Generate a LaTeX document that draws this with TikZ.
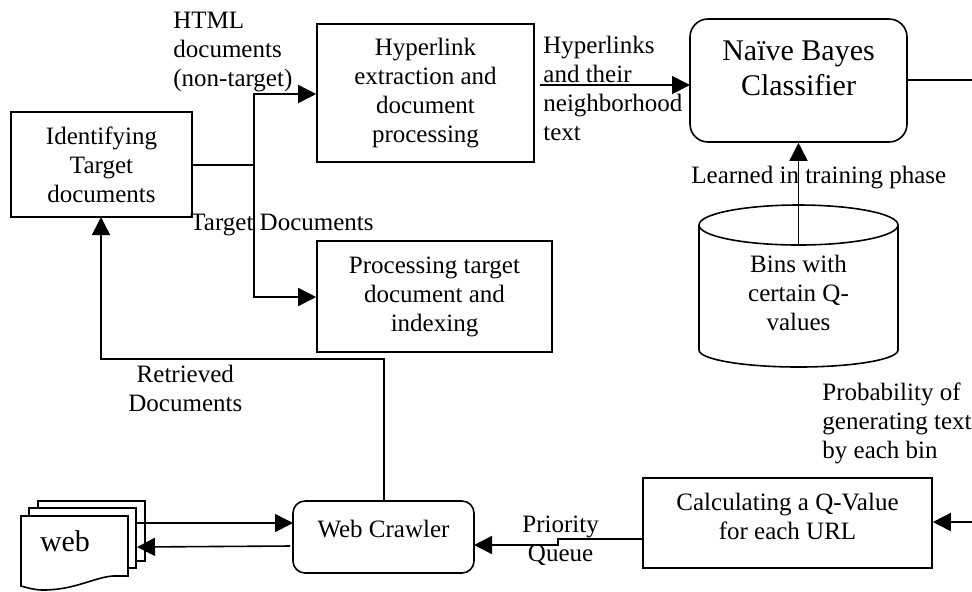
\documentclass[tikz,border=0pt]{standalone}
\usepackage{fontspec}
\setmainfont{Liberation Serif}
\usetikzlibrary{arrows.meta}

\tikzset{
  flow/.style = {line width = 0.8pt, -{Triangle[length = 9pt, width = 9pt]}},
  wire/.style = {line width = 0.8pt},
  box/.style = {draw, line width = 0.8pt, inner sep = 0pt, align = center,
    font = \fontsize{12.5}{14.5}\selectfont},
  roundbox/.style = {box, rounded corners = 9pt},
  tag/.style = {anchor = north west, inner sep = 0pt, align = left,
    font = \fontsize{12.5}{14.5}\selectfont}
}

\begin{document}
\begin{tikzpicture}[x = 0.5pt, y = -0.5pt]
  \useasboundingbox (0, 0) rectangle (972, 591);

  \draw (101.5, 164.5) node[box, minimum width = 90.5pt, minimum height = 52.5pt] (identify)
    {Identifying\\Target\\documents};
  \draw (425.5, 93) node[box, minimum width = 108.5pt, minimum height = 69pt] (hyperlink)
    {Hyperlink\\extraction and\\document\\processing};
  \draw (434.5, 296.5) node[box, minimum width = 117.5pt, minimum height = 55.5pt] (process)
    {Processing target\\document and\\indexing};
  \draw (798.5, 80.5) node[roundbox, minimum width = 108.5pt, minimum height = 61.5pt,
    font = \fontsize{15}{17.5}\selectfont] (bayes) {Naïve Bayes\\Classifier\\[-5.5pt]};
  \draw (787.5, 523) node[box, minimum width = 144.5pt, minimum height = 45pt] (qvalue)
    {Calculating a Q-Value\\for each URL\\[-8pt]};
  \draw (383.5, 537) node[roundbox, rounded corners = 6pt, minimum width = 90.5pt,
    minimum height = 36pt] (crawler)
    {Web Crawler\\[-6.5pt]};

  % cylinder
  \draw[wire]
    (699, 225) -- (699, 350)
    arc[start angle = 180, end angle = 0, x radius = 99.5, y radius = 17]
    -- (898, 225);
  \draw[wire] (798.5, 225) ellipse[x radius = 99.5, y radius = 20];
  \draw (798.5, 293) node[inner sep = 0pt, align = center,
    font = \fontsize{12.5}{14.5}\selectfont] (bins)
    {Bins with\\certain Q-\\values};

  % stack of pages
  \draw[wire, fill = white] (38, 501) rectangle (145, 561);
  \draw[wire, fill = white] (29, 508) rectangle (136, 568);
  \draw[wire, fill = white]
    (21, 516) -- (128, 516) -- (128, 576) -- (113, 576)
    .. controls (95, 577) and (75, 590) .. (43, 590)
    .. controls (35, 590) and (28, 588) .. (21, 586) -- cycle;
  \draw (65, 541) node[inner sep = 0pt, font = \fontsize{15}{18}\selectfont] (web) {web};
  \coordinate (webout) at (135, 523);
  \coordinate (webin) at (137, 547);

  \coordinate (split) at (254, 165);
  \coordinate (splitup) at (254, 94);
  \coordinate (splitdown) at (254, 297);
  \coordinate (binstop) at (798.5, 245);
  \coordinate (linkout) at (540, 85);
  \coordinate (linkin) at (690, 85);
  \coordinate (bayesout) at (972, 80);
  \coordinate (qin) at (972, 522);
  \coordinate (crawlout) at (290, 546);
  \coordinate (crawlin) at (293, 523);
  \coordinate (crawlq) at (474, 545);
  \coordinate (qout) at (643, 539);
  \coordinate (stepa) at (558, 545);
  \coordinate (stepb) at (558, 539);
  \coordinate (crawlup) at (384, 501);
  \coordinate (bendr) at (384, 359);
  \coordinate (bendl) at (101, 359);
  \coordinate (identin) at (101, 217);

  \draw[wire] (identify.east |- split) -- (split);
  \draw[flow] (split) -- (splitup) -- (hyperlink.west |- splitup);
  \draw[flow] (split) -- (splitdown) -- (process.west |- splitdown);
  \draw[flow] (linkout) -- (linkin);
  \draw[wire] (bayes.east |- bayesout) -- (bayesout);
  \draw[flow] (binstop) -- (bayes.south -| binstop);
  \draw[flow] (qin) -- (qvalue.east |- qin);
  \draw[flow] (qout) -- (stepb) -- (stepa) -- (crawlq);
  \draw[flow] (crawlup) -- (bendr) -- (bendl) -- (identin);
  \draw[flow] (webout) -- (crawlin);
  \draw[flow] (crawlout) -- (webin);

  \draw (173, 12) node[tag] (html) {HTML\\documents\\(non-target)};
  \draw (543, 35.5) node[tag] (links) {Hyperlinks\\and their\\neighborhood\\text};
  \draw (190, 214) node[tag] (target) {Target Documents};
  \draw (691, 166) node[tag] (learned) {Learned in training phase};
  \draw (822, 382.5) node[tag] (prob) {Probability of\\generating text\\by each bin};
  \draw (128, 364.5) node[tag, align = center] (retrieved) {Retrieved\\Documents};
  \draw (522, 516) node[tag, align = center] (queue) {Priority\\Queue};

\end{tikzpicture}
\end{document}
